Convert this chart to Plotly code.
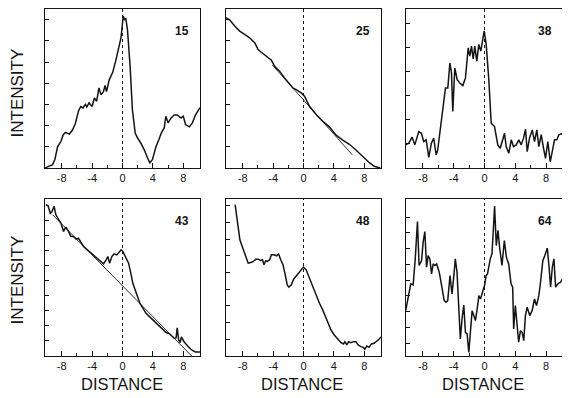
import plotly.graph_objects as go

# ---------------- data ----------------
x15 = [-10.2, -9.6, -9.2, -8.9, -8.55, -8.1, -7.8, -7.5, -7.0, -6.6, -6.2, -5.8, -5.5, -5.2, -4.9, -4.7, -4.4, -4.0,
       -3.7, -3.4, -3.1, -2.85, -2.5, -2.3, -2.1, -1.75, -1.3, -0.9, -0.5, -0.2, 0.1, 0.26, 0.44, 0.66, 1.0, 1.3,
       1.67, 1.97, 2.4, 2.85, 3.3, 3.6, 3.95, 4.4, 4.8, 5.1, 5.5, 5.7, 6.0, 6.4, 6.8, 7.2, 7.7, 8.0, 8.3, 8.8, 9.2,
       9.6, 10.2]
y15 = [0.0, 0.1, 0.16, 0.4, 1.0, 1.26, 1.57, 1.68, 1.6, 1.78, 2.1, 2.68, 2.9, 2.83, 3.0, 2.88, 3.07, 2.9,
       3.3, 3.15, 3.78, 3.46, 3.6, 3.9, 3.6, 4.16, 4.5, 5.04, 5.6, 6.14, 7.17, 7.0, 7.04, 6.5, 4.8, 2.76,
       1.65, 1.42, 1.18, 0.87, 0.47, 0.24, 0.4, 1.0, 1.34, 1.65, 1.9, 2.44, 2.13, 2.36, 2.5, 2.5, 2.36, 2.44, 2.05,
       1.94, 2.13, 2.5, 2.85]

x25 = [-10.2, -9.7, -9.06, -8.4, -7.75, -7.1, -6.4, -6.0, -5.56, -4.9, -4.25, -3.8, -3.15, -2.5, -1.84, -1.4,
       -0.96, -0.3, 0.13, 0.79, 1.66, 2.54, 3.4, 4.3, 5.17, 6.04, 6.9, 7.8, 8.67, 9.3, 10.1]
y25 = [7.09, 6.98, 6.7, 6.46, 6.3, 6.14, 5.9, 5.6, 5.46, 5.28, 5.1, 4.8, 4.57, 4.25, 3.94, 3.78,
       3.7, 3.54, 3.39, 2.91, 2.52, 2.2, 1.94, 1.55, 1.32, 1.12, 0.85, 0.52, 0.25, 0.08, 0.0]
ref25_x = [-4.1, 6.45]
ref25_y = [4.86, 0.61]

x38 = [-10.27, -9.84, -9.4, -9.06, -8.54, -8.2, -7.9, -7.58, -7.24, -6.9, -6.6, -6.28, -6.08, -5.72, -5.42,
       -5.07, -4.77, -4.5, -4.29, -4.12, -3.86, -3.55, -3.21, -2.82, -2.47, -2.12, -1.91, -1.69, -1.47, -1.26,
       -1.0, -0.74, -0.48, -0.3, -0.04, 0.22, 0.56, 0.87, 1.3, 1.73, 2.04, 2.3, 2.6, 2.82, 3.16, 3.47, 3.77,
       4.12, 4.46, 4.77, 5.07, 5.33, 5.55, 5.85, 6.2, 6.5, 6.8, 7.06, 7.37, 7.67, 7.93, 8.23, 8.54, 8.8,
       9.1, 9.4, 9.66, 9.97, 10.2]
y38 = [0.96, 1.03, 1.28, 0.96, 1.51, 1.44, 1.1, 1.17, 0.44, 1.03, 1.24, 0.54, 0.75, 1.72, 2.62,
       3.32, 3.32, 4.36, 3.95, 2.35, 4.15, 3.67, 3.53, 3.42, 3.74, 4.99, 4.64, 5.06, 4.53, 5.06,
       4.43, 5.13, 4.85, 5.2, 5.69, 5.13, 3.67, 1.86, 1.72, 0.96, 0.82, 1.1, 1.44, 0.89, 0.61, 1.17, 0.89,
       0.96, 1.17, 0.96, 1.24, 1.61, 0.68, 1.24, 1.58, 1.1, 1.58, 0.89, 1.38, 0.82, 0.4, 1.1, 0.26, 0.68,
       1.17, 1.17, 1.38, 1.42, 1.38]

x43 = [-10.1, -9.8, -9.5, -9.3, -9.0, -8.77, -8.4, -8.1, -7.76, -7.46, -7.1, -6.8, -6.45, -6.1, -5.8, -5.57,
       -5.13, -4.7, -4.25, -3.8, -3.4, -2.94, -2.5, -2.15, -1.93, -1.7, -1.4, -1.1, -0.75, -0.44, -0.18, 0.04,
       0.26, 0.48, 0.8, 1.1, 1.36, 1.67, 1.97, 2.3, 2.68, 3.1, 3.55, 4.0, 4.43, 4.87, 5.3, 5.75, 6.2, 6.5,
       6.8, 7.05, 7.2, 7.4, 7.6, 7.75, 8.1, 8.6, 9.1, 9.6, 10.2]
y43 = [10.07, 10.0, 9.5, 9.6, 9.96, 9.4, 9.07, 8.84, 8.29, 8.58, 8.29, 7.96, 7.96, 7.78, 7.84, 7.62,
       7.29, 7.1, 6.9, 6.73, 6.5, 6.36, 6.13, 6.4, 6.62, 6.18, 6.62, 6.8, 6.73, 6.9, 7.07, 6.96,
       6.73, 6.4, 6.18, 5.5, 4.84, 4.4, 3.96, 3.5, 3.18, 2.84, 2.62, 2.4, 2.18, 1.96, 1.73, 1.56, 1.47, 1.29,
       1.18, 1.2, 1.87, 1.05, 0.9, 1.27, 0.95, 0.65, 0.4, 0.27, 0.27]
ref43_x = [-9.2, 9.1]
ref43_y = [9.4, 0.0]

x48 = [-9.0, -8.8, -8.6, -8.37, -8.15, -7.85, -7.6, -7.28, -6.93, -6.6, -6.28, -5.97, -5.67, -5.4, -5.2, -4.97,
       -4.75, -4.45, -4.23, -3.88, -3.57, -3.27, -3.0, -2.7, -2.4, -2.14, -1.92, -1.6, -1.3, -0.96, -0.65, -0.3,
       0.0, 0.35, 0.78, 1.22, 1.66, 2.1, 2.53, 2.96, 3.27, 3.62, 4.05, 4.5, 4.93, 5.27, 5.45, 5.71, 5.93,
       6.23, 6.58, 6.89, 7.19, 7.54, 7.89, 8.06, 8.33, 8.63, 8.94, 9.29, 9.63, 9.94, 10.2]
y48 = [9.06, 8.46, 7.76, 6.96, 6.66, 6.26, 5.86, 5.56, 5.6, 5.66, 5.8, 5.8, 5.72, 5.76, 5.46, 5.7,
       5.66, 5.76, 6.06, 6.06, 6.0, 6.1, 5.76, 5.46, 4.86, 4.26, 4.12, 4.26, 4.6, 4.8, 4.96, 5.16,
       5.32, 5.16, 4.66, 4.16, 3.56, 3.16, 2.76, 2.26, 1.86, 1.56, 1.26, 1.0, 0.8, 0.72, 0.86, 0.66, 0.86,
       0.8, 0.86, 0.86, 0.66, 0.56, 0.52, 0.4, 0.6, 0.52, 0.72, 0.76, 0.86, 1.0, 1.14]

x64 = [-10.24, -9.88, -9.58, -9.27, -9.0, -8.71, -8.5, -8.18, -7.97, -7.75, -7.53, -7.32, -7.1, -6.88, -6.67,
       -6.44, -6.22, -5.88, -5.53, -5.23, -5.0, -4.78, -4.48, -4.22, -4.0, -3.79, -3.57, -3.35, -3.14, -2.92,
       -2.69, -2.48, -2.26, -2.04, -1.83, -1.61, -1.39, -1.18, -0.95, -0.73, -0.52, -0.3, 0.0, 0.22, 0.39,
       0.75, 0.97, 1.18, 1.31, 1.53, 1.75, 1.96, 2.27, 2.58, 2.84, 3.14, 3.45, 3.66, 3.79, 4.01, 4.24, 4.44,
       4.67, 4.89, 5.1, 5.32, 5.54, 5.88, 6.19, 6.5, 6.76, 7.06, 7.28, 7.58, 7.84, 8.16, 8.37, 8.59, 8.81,
       9.02, 9.24, 9.54, 9.89, 10.12, 10.3]
y64 = [3.07, 4.02, 4.77, 4.7, 6.35, 8.72, 5.93, 6.24, 7.41, 8.08, 5.82, 6.56, 6.35, 5.4, 6.03,
       5.93, 6.03, 5.51, 4.45, 3.71, 3.6, 3.71, 5.29, 4.13, 5.19, 6.35, 5.51, 3.6, 1.28, 2.55,
       3.43, 1.7, 1.6, 0.43, 1.7, 3.07, 2.76, 2.44, 3.18, 4.02, 3.81, 4.13, 4.66, 5.3, 5.4,
       6.35, 6.67, 8.46, 9.69, 7.19, 8.15, 7.09, 5.93, 7.51, 6.46, 6.03, 4.77, 4.56, 1.91, 3.39, 2.12, 1.07,
       1.8, 1.7, 1.17, 2.76, 3.29, 2.76, 3.07, 3.81, 3.39, 4.02, 4.87, 6.24, 6.56, 7.03, 5.93, 4.56, 5.82,
       6.35, 4.56, 4.77, 4.87, 5.08, 5.02]

panel_labels = ["15", "25", "38", "43", "48", "64"]
x_tick_vals = [-8, -4, 0, 4, 8]
x_tick_text = ["-8", "-4", "0", "4", "8"]
x_minor_vals = [-6, -2, 2, 6]

# ---------------- layout helpers ----------------
# The page body has an 8px default margin, so the figure is placed at (8, 8).
OFF = 8
PAGE_W, PAGE_H = 570, 398
W, H = PAGE_W - OFF, PAGE_H - OFF
INK = "#141414"
FONT = "Liberation Sans, Arial, Helvetica, sans-serif"


def px(p):
    return (p - OFF) / W


def py(p):
    return 1 - (p - OFF) / H


# page-pixel boxes (left, right, top, bottom)
boxes = [(45, 200, 9, 168), (226, 381, 9, 168), (406, 563, 9, 168),
         (45, 200, 199, 356), (226, 381, 199, 356), (406, 563, 199, 356)]
yranges = [[0, 7.5], [0, 7.5], [0, 6.6], [0, 10.45], [0, 9.4], [0.2, 10.14]]
ytickvals = [list(range(1, 8)), list(range(1, 8)), list(range(1, 7)),
             list(range(1, 10)), list(range(1, 10)), list(range(1, 10))]

series = [(x15, y15), (x25, y25), (x38, y38), (x43, y43), (x48, y48), (x64, y64)]
refs = {1: (ref25_x, ref25_y), 3: (ref43_x, ref43_y)}

fig = go.Figure()
layout = {}
shapes = []
annotations = []

for i, ((xs, ys), box) in enumerate(zip(series, boxes)):
    n = i + 1
    xa = "x" if n == 1 else f"x{n}"
    ya = "y" if n == 1 else f"y{n}"
    l, r, t, b = box
    xdom = [px(l), px(r)]
    ydom = [py(b), py(t)]
    layout["xaxis" if n == 1 else f"xaxis{n}"] = dict(
        domain=xdom, anchor=ya, range=[-10.2, 10.2],
        tickmode="array", tickvals=x_tick_vals, ticktext=x_tick_text,
        ticks="inside", ticklen=5, tickwidth=1.2, tickcolor=INK,
        minor=dict(tickvals=x_minor_vals, ticks="inside", ticklen=3, tickwidth=1.1, tickcolor=INK),
        showline=True, mirror=True, linecolor=INK, linewidth=1.3,
        showgrid=False, zeroline=False,
        tickfont=dict(family=FONT, size=11, color=INK),
    )
    layout["yaxis" if n == 1 else f"yaxis{n}"] = dict(
        domain=ydom, anchor=xa, range=yranges[i],
        tickmode="array", tickvals=ytickvals[i], showticklabels=False,
        ticks="inside", ticklen=4, tickwidth=1.1, tickcolor=INK,
        showline=True, mirror=True, linecolor=INK, linewidth=1.3,
        showgrid=False, zeroline=False,
    )
    if i in refs:
        rx, ry = refs[i]
        fig.add_trace(go.Scatter(x=rx, y=ry, mode="lines", xaxis=xa, yaxis=ya,
                                 line=dict(color=INK, width=0.9), showlegend=False, hoverinfo="skip"))
    fig.add_trace(go.Scatter(x=xs, y=ys, mode="lines", xaxis=xa, yaxis=ya,
                             line=dict(color=INK, width=1.5), showlegend=False))
    shapes.append(dict(type="line", xref=xa, yref=f"{ya} domain", x0=0, x1=0, y0=0, y1=1,
                       line=dict(color=INK, width=1, dash="dot")))
    annotations.append(dict(text=f"<b>{panel_labels[i]}</b>", xref=f"{xa} domain", yref=f"{ya} domain",
                            x=0.94, y=0.86, xanchor="right", yanchor="middle", showarrow=False,
                            font=dict(family=FONT, size=12, color=INK)))

for yc in [93, 280]:
    annotations.append(dict(text="INTENSITY", xref="paper", yref="paper", x=px(16.5), y=py(yc),
                            textangle=-90, showarrow=False, xanchor="center", yanchor="middle",
                            font=dict(family=FONT, size=17, color=INK)))
for xc in [122, 302, 483]:
    annotations.append(dict(text="DISTANCE", xref="paper", yref="paper", x=px(xc), y=py(384),
                            showarrow=False, xanchor="center", yanchor="middle",
                            font=dict(family=FONT, size=16.5, color=INK)))

fig.update_layout(width=W, height=H, margin=dict(l=0, r=0, t=0, b=0),
                  paper_bgcolor="white", plot_bgcolor="white",
                  shapes=shapes, annotations=annotations, **layout)

fig.write_html("out.html")
